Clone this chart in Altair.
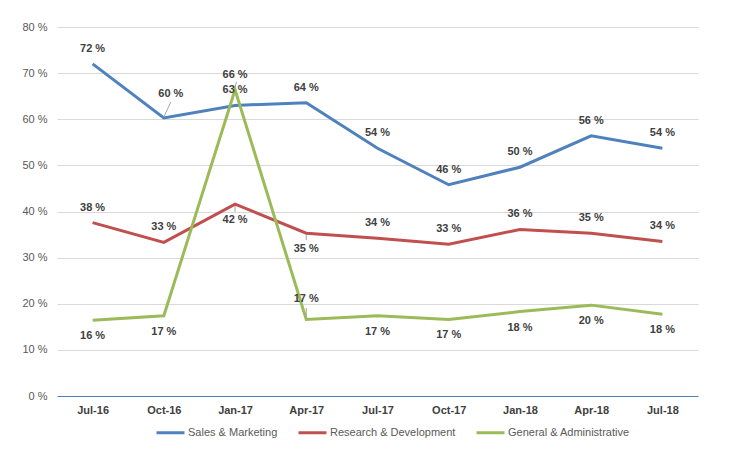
import json
import altair as alt
import pandas as pd

# Quarterly share of spend by department (percent)
months = ["Jul-16", "Oct-16", "Jan-17", "Apr-17", "Jul-17", "Oct-17", "Jan-18", "Apr-18", "Jul-18"]
series_names = ["Sales & Marketing", "Research & Development", "General & Administrative"]
sales = [72.0, 60.3, 63.0, 63.6, 53.7, 45.8, 49.6, 56.4, 53.7]
research = [37.6, 33.3, 41.6, 35.3, 34.2, 32.9, 36.1, 35.3, 33.5]
admin = [16.4, 17.4, 66.4, 16.6, 17.4, 16.6, 18.3, 19.7, 17.7]
colors = ["#4F81BD", "#C0504D", "#9BBB59"]

# Where each data label sits relative to its point
# a = above, b = below, d = up and to the right, h = high above
placement = {
    "Sales & Marketing": ["a", "d", "a", "a", "a", "a", "a", "a", "a"],
    "Research & Development": ["a", "a", "b", "b", "a", "a", "a", "a", "a"],
    "General & Administrative": ["b", "b", "a", "h", "b", "b", "b", "b", "b"],
}

# Short leader lines: (series, month index, x shift of end, start offset, end offset)
leaders = [
    ("Sales & Marketing", 1, 0.1, 0.2, 3.5),
    ("General & Administrative", 2, 0.02, 0.6, 1.7),
    ("Research & Development", 2, 0.0, -0.4, -1.7),
    ("Research & Development", 3, 0.0, -0.4, -1.5),
    ("General & Administrative", 3, 0.0, 0.2, 2.5),
]

values = {"Sales & Marketing": sales, "Research & Development": research,
          "General & Administrative": admin}

rows = []
for name in series_names:
    for i, m in enumerate(months):
        rows.append({"idx": i, "month": m, "series": name,
                     "value": values[name][i], "pos": placement[name][i]})
df = pd.DataFrame(rows)

lead_rows = []
for name, i, dx, y0, y1 in leaders:
    v = values[name][i]
    lead_rows.append({"x": i, "x2": i + dx, "y": v + y0, "y2": v + y1})
lead_df = pd.DataFrame(lead_rows)

label_expr = json.dumps(months) + "[datum.value]"

x_enc = alt.X(
    "idx:Q",
    scale=alt.Scale(domain=[-0.5, 8.5], nice=False, zero=False),
    axis=alt.Axis(values=list(range(len(months))), labelExpr=label_expr, grid=False,
                  ticks=False, domainColor="#4F81BD", domainWidth=1,
                  labelFontWeight="bold", labelColor="#404040", labelFontSize=11,
                  labelPadding=8, title=None),
)
y_enc = alt.Y(
    "value:Q",
    scale=alt.Scale(domain=[0, 80], nice=False),
    axis=alt.Axis(values=list(range(0, 81, 10)), labelExpr="datum.value + ' %'",
                  domain=False, ticks=False, gridColor="#D9D9D9", labelColor="#595959",
                  labelFontSize=11, labelPadding=10, title=None),
)

color_enc = alt.Color(
    "series:N",
    scale=alt.Scale(domain=series_names, range=colors),
    sort=series_names,
    legend=alt.Legend(orient="none", legendX=98, legendY=390, direction="horizontal",
                      title=None, symbolType="stroke", symbolStrokeWidth=3,
                      symbolSize=784, labelFontSize=11, labelColor="#595959",
                      columnPadding=14, labelOffset=2),
)

base = alt.Chart(df)

lines = base.mark_line(strokeWidth=3).encode(x=x_enc, y=y_enc, color=color_enc,
                                             order="idx:Q")

leader_lines = alt.Chart(lead_df).mark_rule(color="#A6A6A6", strokeWidth=1).encode(
    x="x:Q", x2="x2:Q", y="y:Q", y2="y2:Q")


def label_layer(pos, dx, dy):
    return base.transform_filter(alt.datum.pos == pos).transform_calculate(
        label="format(datum.value, '.0f') + ' %'"
    ).mark_text(fontSize=11, fontWeight="bold", color="#404040", dx=dx, dy=dy).encode(
        x="idx:Q", y="value:Q", text="label:N")


chart = alt.layer(
    lines,
    leader_lines,
    label_layer("a", 0, -15),
    label_layer("b", 0, 16),
    label_layer("d", 7, -24),
    label_layer("h", 0, -20),
).properties(
    width=641, height=369, autosize="none",
    padding={"left": 57, "top": 27, "right": 39, "bottom": 54},
).configure(font="Liberation Sans").configure_view(stroke=None)

chart.save("out.html", embed_options={"renderer": "svg", "actions": False})
